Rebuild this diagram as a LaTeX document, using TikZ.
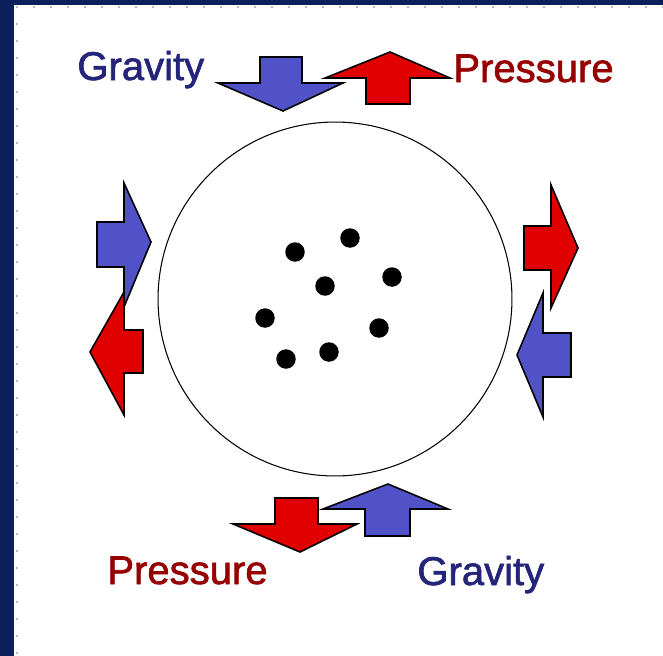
\documentclass[tikz,border=0pt]{standalone}
\usepackage{fontspec}
\setmainfont{Liberation Sans}
\newfontfamily\lblfont[FakeBold=1.6]{Liberation Sans}
\usepackage{xcolor}
\usepackage{tikz}
\usetikzlibrary{arrows.meta,positioning}

\definecolor{navy}{HTML}{0B1F5A}
\definecolor{gblue}{HTML}{5252C8}
\definecolor{pred}{HTML}{E00000}
\definecolor{gtext}{HTML}{24247A}
\definecolor{ptext}{HTML}{960000}

\begin{document}
\begin{tikzpicture}[
  x=0.02cm, y=-0.02cm,
  lbl/.style={anchor=base west, inner sep=0pt, font=\lblfont\fontsize{22.8}{27}\selectfont},
  grav/.style={lbl, text=gtext},
  pres/.style={lbl, text=ptext},
  garr/.style={draw=black, fill=gblue, line width=0.9pt, line join=miter},
  parr/.style={draw=black, fill=pred, line width=0.9pt, line join=miter},
  dot/.style={circle, fill=black, inner sep=0pt, minimum size=0.39cm}]
% ---------------- frame ----------------
\fill[navy] (0,0) rectangle (663,656);
\fill[white] (14,5) rectangle (663,656);
\useasboundingbox (0,0) rectangle (663,656);
\foreach \i in {0,...,38}
  \fill[gray!70] (17+17*\i,7) circle (1.1);
\foreach \i in {1,...,38}
  \fill[gray!70] (17,7+17*\i) circle (1.1);
% ---------------- cell ----------------
\node[draw, circle, line width=0.6pt, minimum size=7.08cm, inner sep=0pt] (cell) at (335,299) {};
\node[dot] (d1) at (295,252) {};
\node[dot] (d2) at (350,238) {};
\node[dot] (d3) at (392,277) {};
\node[dot] (d4) at (325,286) {};
\node[dot] (d5) at (265,318) {};
\node[dot] (d6) at (379,328) {};
\node[dot] (d7) at (286,359) {};
\node[dot] (d8) at (329,352) {};
% ---------------- top ----------------
\node[grav] (gtop) at (77,80) {Gravity};
\node[pres] (ptop) at (453,82) {Pressure};
\draw[garr] (260,57) -- (302,57) -- (302,83) -- (343,83) -- (283,111) -- (218,83) -- (260,83) -- cycle;
\draw[parr] (366,104) -- (366,78) -- (325,78) -- (390,52) -- (450,78) -- (410,78) -- (410,104) -- cycle;
% ---------------- left ----------------
\draw[garr] (97,222) -- (124,222) -- (124,183) -- (151,242) -- (124,307) -- (124,267) -- (97,267) -- cycle;
\draw[parr] (143,330) -- (124,330) -- (124,292) -- (90,352) -- (124,415) -- (124,373) -- (143,373) -- cycle;
% ---------------- right ----------------
\draw[parr] (524,226) -- (551,226) -- (551,185) -- (578,248) -- (551,308) -- (551,270) -- (524,270) -- cycle;
\draw[garr] (571,333) -- (543,333) -- (543,293) -- (517,355) -- (543,417) -- (543,377) -- (571,377) -- cycle;
% ---------------- bottom ----------------
\draw[parr] (275,498) -- (318,498) -- (318,524) -- (357,524) -- (300,552) -- (233,524) -- (275,524) -- cycle;
\draw[garr] (365,536) -- (365,509) -- (323,509) -- (388,484) -- (448,509) -- (410,509) -- (410,536) -- cycle;
\node[pres] (pbot) at (107,584) {Pressure};
\node[grav] (gbot) at (417,585) {Gravity};
\end{tikzpicture}
\end{document}
